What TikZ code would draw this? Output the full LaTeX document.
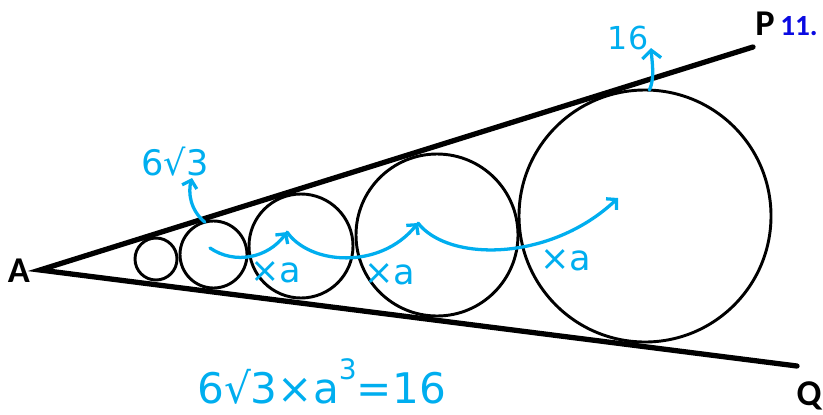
\documentclass[tikz,border=0pt]{standalone}
\usepackage{fontspec}
\setmainfont{Carlito}
\newfontfamily\handfont{DejaVu Sans}
\usetikzlibrary{arrows.meta}
\definecolor{pen}{RGB}{0,174,239}
\definecolor{ink}{RGB}{10,10,225}
\begin{document}
\begin{tikzpicture}[x=0.03cm,y=-0.03cm,
  edge/.style={line width=4.5pt,line cap=round},
  ring/.style={circle,draw,line width=2.5pt,inner sep=0pt,outer sep=0pt},
  hand/.style={pen,line width=2.8pt,line cap=round,-{Straight Barb[length=6pt,width=13pt]}},
  lbl/.style={font=\fontsize{31}{31}\selectfont\bfseries},
  note/.style={pen,inner sep=0pt,font=\fontsize{30}{30}\selectfont\handfont}]
\useasboundingbox (0,0) rectangle (823,414);
\coordinate (A) at (40,270);\coordinate (P) at (753,47);\coordinate (Q) at (797,366);
\draw[edge] (P)--(A)--(Q);
\foreach \n/\x/\y/\r in {1/156/259/21,2/213.5/254.5/33.5,3/301/246/52,4/437/235/81,5/645/216/126}{\node[ring,minimum size=\r*0.06cm] (c\n) at (\x,\y) {};}
\coordinate (s1) at (210,248);\coordinate (m1) at (287,232);\coordinate (m2) at (418,223);\coordinate (m3) at (618,198);
\coordinate (u1) at (192,178);\coordinate (u2) at (651,48);
\draw[hand] (s1) .. controls (235,265) and (268,258) .. (m1);
\draw[hand] (m1) .. controls (310,265) and (380,270) .. (m2);
\draw[hand] (m2) .. controls (448,262) and (550,262) .. (m3);
\draw[hand] (c2.105) .. controls (190,210) and (188,192) .. (u1);
\draw[hand,-{Straight Barb[length=7pt,width=16pt]}] (c5.88) .. controls (655,78) and (652,62) .. (u2);
\node[lbl] (a) at (19,271) {A};\node[lbl] (p) at (765,24) {P};\node[lbl] (q) at (809,396) {Q};
\node[ink,inner sep=0pt,anchor=east,font=\fontsize{25}{25}\selectfont\bfseries] (num) at (818,26) {11.};
\node[note] (r1) at (175,162) {6√3};
\node[note,font=\fontsize{27}{27}\selectfont\handfont] (r5) at (628,38) {16};
\foreach \n/\x/\y in {1/276/272,2/390/274,3/566/260}{\node[note] (x\n) at (\x,\y) {×a};}
\node[note,anchor=base west,font=\fontsize{36}{36}\selectfont\handfont] (eq) at (197,403) {6√3×a\raisebox{0.55em}{\fontsize{24}{24}\selectfont 3}=16};
\end{tikzpicture}
\end{document}
